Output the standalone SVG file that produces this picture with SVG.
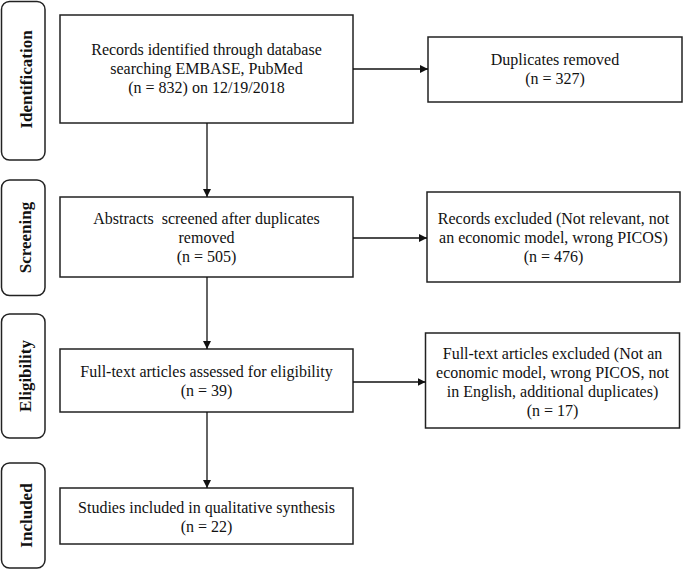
<svg xmlns="http://www.w3.org/2000/svg" width="685" height="570" viewBox="0 0 685 570">
<style>
.box{fill:#fff;stroke:#222;stroke-width:1.5}
.lab{fill:#fff;stroke:#222;stroke-width:1.5}
.t{font-family:"Liberation Serif","Times New Roman",serif;font-size:16px;fill:#111;text-anchor:middle}
.lt{font-family:"Liberation Serif","Times New Roman",serif;font-size:17px;font-weight:bold;fill:#111;text-anchor:middle}
.c{stroke:#111;stroke-width:1.3;fill:none}
</style>
<defs>
<marker id="ah" viewBox="0 0 10 10" refX="10" refY="5" markerWidth="8" markerHeight="8" markerUnits="userSpaceOnUse" orient="auto">
<path d="M0,0 L10,5 L0,10 Z" fill="#111"/>
</marker>
</defs>
<rect width="685" height="570" fill="#fff"/>
<g id="label-identification">
<rect class="lab" x="1.5" y="1.5" width="43.5" height="158.5" rx="8"/>
<text class="lt" transform="translate(32,79.5) rotate(-90)">Identification</text>
</g>
<g id="label-screening">
<rect class="lab" x="1.5" y="180" width="43.5" height="115.5" rx="8"/>
<text class="lt" transform="translate(31,237.5) rotate(-90)">Screening</text>
</g>
<g id="label-eligibility">
<rect class="lab" x="1.5" y="314" width="43.5" height="124" rx="8"/>
<text class="lt" transform="translate(31,376) rotate(-90)">Eligibility</text>
</g>
<g id="label-included">
<rect class="lab" x="1.5" y="463" width="43.5" height="105" rx="8"/>
<text class="lt" transform="translate(32,515.5) rotate(-90)">Included</text>
</g>
<g id="records-identified">
<rect class="box" x="60" y="15" width="293" height="108"/>
<text class="t" x="206.5" y="55">Records identified through database</text>
<text class="t" x="206.5" y="74">searching EMBASE, PubMed</text>
<text class="t" x="206.5" y="93">(n = 832) on 12/19/2018</text>
</g>
<g id="duplicates-removed">
<rect class="box" x="428" y="37" width="254" height="65"/>
<text class="t" x="555" y="65">Duplicates removed</text>
<text class="t" x="555" y="84">(n = 327)</text>
</g>
<g id="abstracts-screened">
<rect class="box" x="60" y="197" width="293" height="80"/>
<text class="t" x="206.5" y="224" xml:space="preserve">Abstracts  screened after duplicates</text>
<text class="t" x="206.5" y="243">removed</text>
<text class="t" x="206.5" y="262">(n = 505)</text>
</g>
<g id="records-excluded">
<rect class="box" x="427" y="192" width="253" height="90"/>
<text class="t" x="553.5" y="224">Records excluded (Not relevant, not</text>
<text class="t" x="553.5" y="243">an economic model, wrong PICOS)</text>
<text class="t" x="553.5" y="262">(n = 476)</text>
</g>
<g id="fulltext-assessed">
<rect class="box" x="60" y="349" width="293" height="63"/>
<text class="t" x="206.5" y="377">Full-text articles assessed for eligibility</text>
<text class="t" x="206.5" y="396">(n = 39)</text>
</g>
<g id="fulltext-excluded">
<rect class="box" x="425.5" y="333" width="254" height="95"/>
<text class="t" x="552.5" y="359">Full-text articles excluded (Not an</text>
<text class="t" x="552.5" y="378">economic model, wrong PICOS, not</text>
<text class="t" x="552.5" y="397">in English, additional duplicates)</text>
<text class="t" x="552.5" y="416">(n = 17)</text>
</g>
<g id="studies-included">
<rect class="box" x="60" y="488" width="293" height="56"/>
<text class="t" x="206.5" y="513">Studies included in qualitative synthesis</text>
<text class="t" x="206.5" y="532">(n = 22)</text>
</g>
<g id="connectors">
<line class="c" x1="207" y1="123" x2="207" y2="197" marker-end="url(#ah)"/>
<line class="c" x1="207" y1="277" x2="207" y2="349" marker-end="url(#ah)"/>
<line class="c" x1="207" y1="412" x2="207" y2="488" marker-end="url(#ah)"/>
<line class="c" x1="353" y1="69" x2="428" y2="69" marker-end="url(#ah)"/>
<line class="c" x1="353" y1="238" x2="427" y2="238" marker-end="url(#ah)"/>
<line class="c" x1="353" y1="382" x2="425.5" y2="382" marker-end="url(#ah)"/>
</g>
</svg>
